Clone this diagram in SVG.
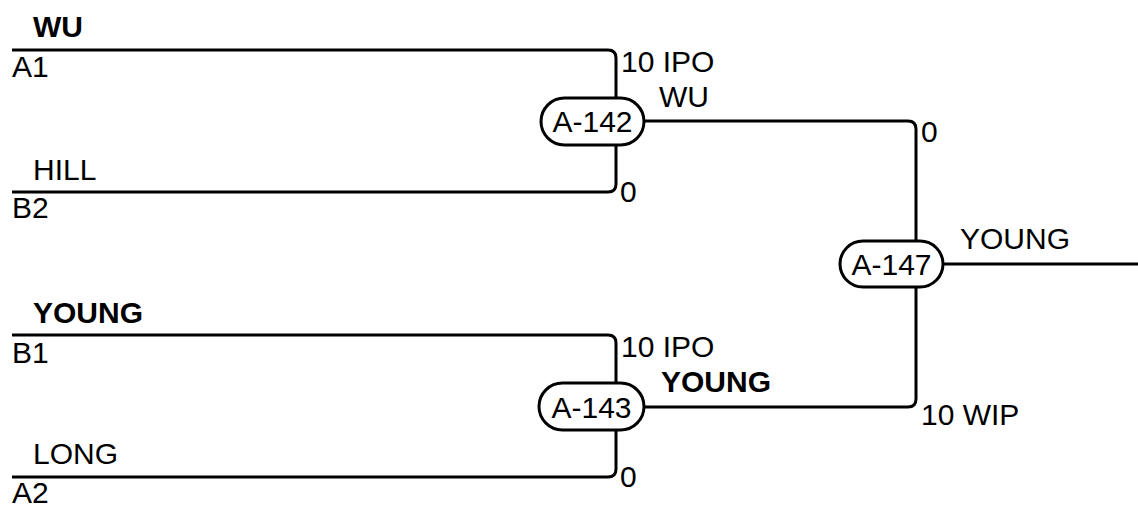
<svg xmlns="http://www.w3.org/2000/svg" width="1138" height="507" viewBox="0 0 1138 507">
<style>
text{font-family:"Liberation Sans",Arial,sans-serif;font-size:30px;fill:#000}
.b{font-weight:bold}
.c{text-anchor:middle}
.ln{fill:none;stroke:#000;stroke-width:3}
.pill{fill:#fff;stroke:#000;stroke-width:3}
</style>
<rect width="1138" height="507" fill="#fff"/>
<g id="connectors">
<path class="ln" d="M12,50 H608 Q616,50 616,58 V98"/>
<path class="ln" d="M12,192 H608 Q616,192 616,184 V145"/>
<path class="ln" d="M12,335 H608 Q616,335 616,343 V383"/>
<path class="ln" d="M12,477 H608 Q616,477 616,469 V430"/>
<path class="ln" d="M644,121 H908 Q916,121 916,129 V241"/>
<path class="ln" d="M644,407 H908 Q916,407 916,399 V287"/>
<path class="ln" d="M943,264 H1138"/>
</g>
<g id="labels">
<text class="b" x="33" y="37">WU</text>
<text x="12" y="77">A1</text>
<text x="33" y="180">HILL</text>
<text x="12" y="218">B2</text>
<text class="b" x="33" y="323">YOUNG</text>
<text x="12" y="363">B1</text>
<text x="33" y="464">LONG</text>
<text x="12" y="503">A2</text>
<text x="621" y="72">10 IPO</text>
<text x="659" y="107">WU</text>
<text x="620" y="202">0</text>
<text x="621" y="357">10 IPO</text>
<text class="b" x="661" y="392">YOUNG</text>
<text x="620" y="487">0</text>
<text x="921" y="142">0</text>
<text x="960" y="249">YOUNG</text>
<text x="921" y="425">10 WIP</text>
</g>
<g id="A-142">
<rect class="pill" x="541" y="98" width="103" height="47" rx="23.5"/>
<text class="c" x="592.5" y="132">A-142</text>
</g>
<g id="A-143">
<rect class="pill" x="539" y="383" width="105" height="47" rx="23.5"/>
<text class="c" x="591.5" y="418">A-143</text>
</g>
<g id="A-147">
<rect class="pill" x="840" y="241" width="103" height="46" rx="23"/>
<text class="c" x="891.5" y="275">A-147</text>
</g>
</svg>
